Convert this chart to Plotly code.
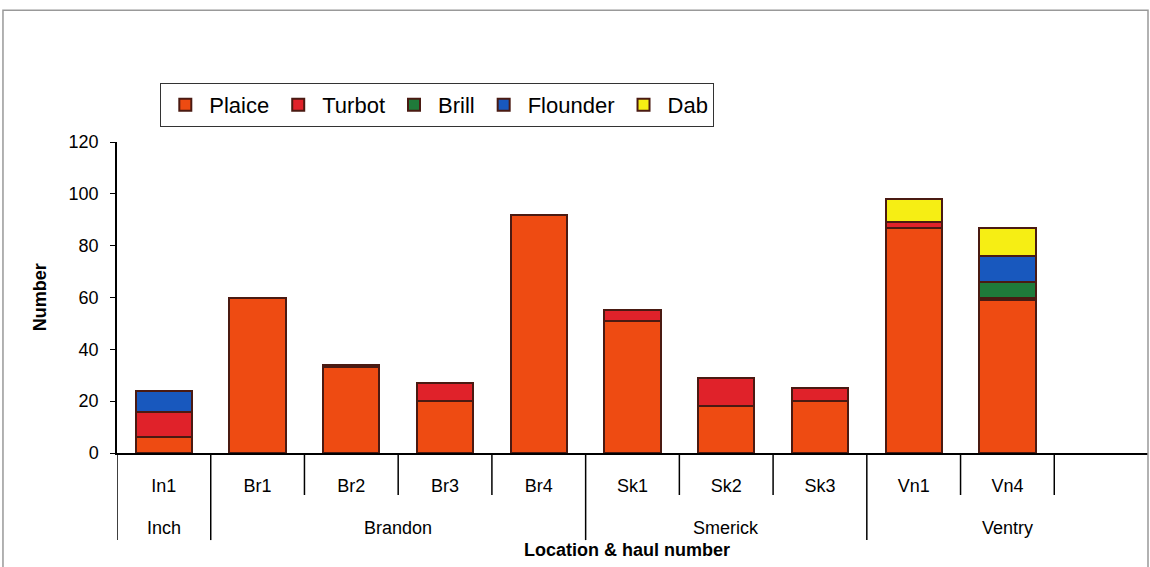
import plotly.graph_objects as go

# ---- data ----
hauls = ["In1", "Br1", "Br2", "Br3", "Br4", "Sk1", "Sk2", "Sk3", "Vn1", "Vn4", " "]
locations = ["Inch", "Brandon", "Smerick", "Ventry"]
loc_spans = [(0, 0), (1, 4), (5, 7), (8, 10)]   # first/last haul index of each location

plaice = [6, 60, 33, 20, 92, 51, 18, 20, 87, 59, None]
turbot = [10, 0, 1, 7, 0, 4, 11, 5, 2, 1, None]
brill = [0, 0, 0, 0, 0, 0, 0, 0, 0, 6, None]
flounder = [8, 0, 0, 0, 0, 0, 0, 0, 0, 10, None]
dab = [0, 0, 0, 0, 0, 0, 0, 0, 9, 11, None]

species = ["Plaice", "Turbot", "Brill", "Flounder", "Dab"]
series = [plaice, turbot, brill, flounder, dab]
colours = ["#EE4B12", "#E0222A", "#1F7A3A", "#1858BE", "#F6EE14"]

FONT = "Liberation Sans, Arial, sans-serif"

fig = go.Figure()
for name, vals, col in zip(species, series, colours):
    fig.add_trace(go.Bar(
        x=hauls, y=vals, name=name,
        marker=dict(color=col, line=dict(color="#4A1A12", width=2)),
        width=0.6,
    ))

# category boundary lines under the axis (short between hauls, long between locations)
shapes = []
group_edges = {s for s, _ in loc_spans}
for i in range(len(hauls)):
    long_line = i in group_edges
    shapes.append(dict(type="line", xref="x", yref="paper",
                       x0=i - 0.5, x1=i - 0.5, y0=0, y1=-0.28 if long_line else -0.135,
                       line=dict(color="black", width=1.5)))

# outer chart frame
shapes.append(dict(type="rect", xref="paper", yref="paper",
                   x0=-0.1106, x1=1.0, y0=-0.4, y1=1.424,
                   line=dict(color="#999", width=1.5)))

annotations = []
for loc, (a, b) in zip(locations, loc_spans):
    annotations.append(dict(text=loc, xref="x", yref="paper", x=(a + b) / 2, y=-0.241,
                            xanchor="center", yanchor="middle",
                            showarrow=False, font=dict(size=18)))
annotations.append(dict(text="<b>Location & haul number</b>", xref="paper", yref="paper",
                        x=0.495, y=-0.312, xanchor="center", yanchor="middle",
                        showarrow=False, font=dict(size=18)))
annotations.append(dict(text="<b>Number</b>", xref="paper", yref="paper", textangle=-90,
                        x=-0.075, y=0.5, xanchor="center", yanchor="middle",
                        showarrow=False, font=dict(size=18)))

fig.update_layout(
    barmode="stack",
    width=1150, height=567,
    margin=dict(l=117, r=2, t=142, b=114),
    plot_bgcolor="white", paper_bgcolor="white",
    font=dict(family=FONT, size=18, color="black"),
    showlegend=True,
    legend=dict(
        orientation="h", x=0.042, y=1.19, xanchor="left", yanchor="top",
        bordercolor="#333", borderwidth=1, font=dict(size=22),
        traceorder="normal", itemwidth=38,
    ),
    yaxis=dict(
        range=[0, 120], dtick=20, showgrid=False, zeroline=False, automargin=False,
        showline=True, linecolor="black", linewidth=1.5,
        ticks="outside", ticklen=5, tickcolor="black", ticklabelstandoff=8,
    ),
    xaxis=dict(
        type="category", showgrid=False, automargin=False, range=[-0.5, 10.5],
        showline=True, linecolor="black", linewidth=1.5,
        ticks="", ticklabelstandoff=16,
    ),
    shapes=shapes,
    annotations=annotations,
)

# the page body has a default 8px margin; remove it so the figure sits at the window origin
fig.write_html("out.html", config={"displayModeBar": False},
               post_script="document.body.style.margin='0';")
